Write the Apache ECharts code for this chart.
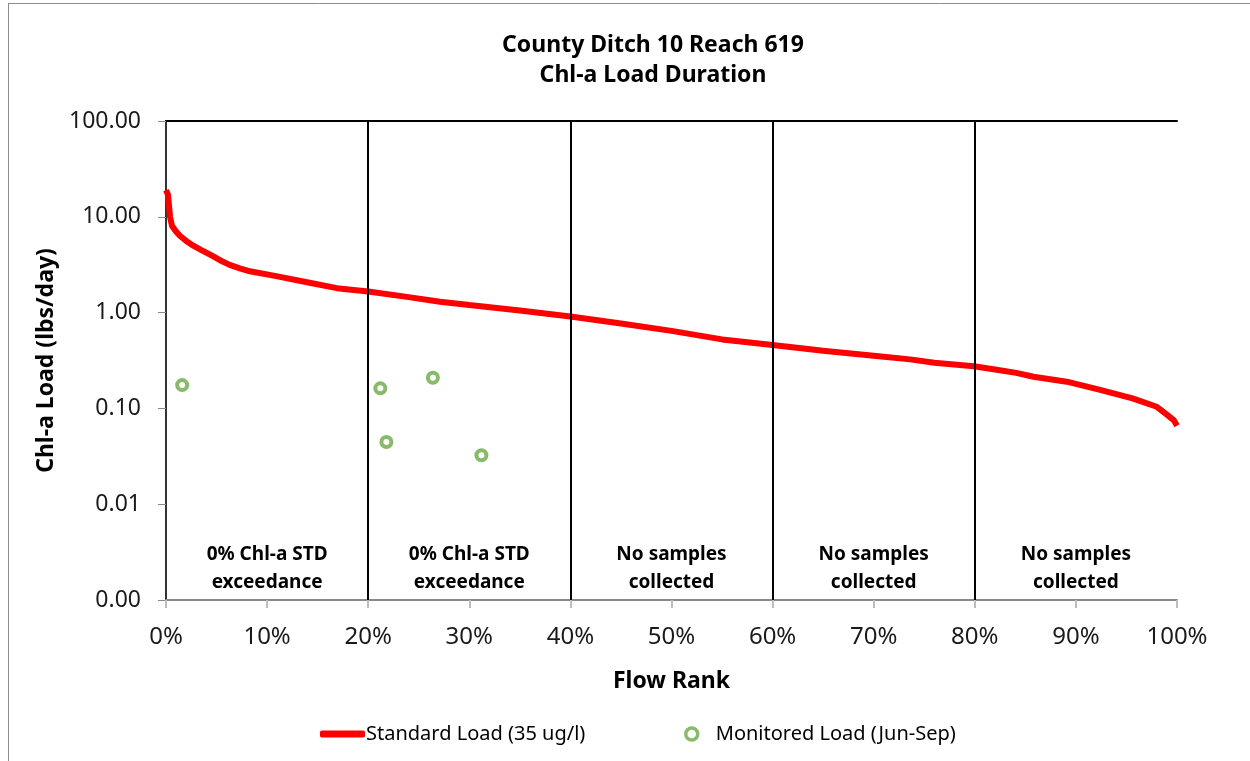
<!DOCTYPE html>
<html>
<head>
<meta charset="utf-8">
<title>County Ditch 10 Reach 619 - Chl-a Load Duration</title>
<script src="https://cdn.jsdelivr.net/npm/echarts@6/dist/echarts.min.js"></script>
<style>
  html, body { margin: 0; padding: 0; background: #fff; }
  #chart { width: 1250px; height: 761px; }
</style>
</head>
<body>
<div id="chart"></div>
<script>
// Load duration curve at the chlorophyll-a standard (flow rank %, lbs/day)
const standardRank = [0, 0.2, 0.4, 0.6, 1.0, 1.4, 2.0, 2.7, 3.5, 4.6, 5.5, 6.3, 7.3, 8.3, 10.9, 14.2, 16.9, 20, 24, 27.1, 30, 35, 40, 45, 50, 55, 60, 65, 70, 73.6, 76, 79.9, 82, 84.1, 85.8, 89.1, 92.4, 95.6, 98, 99, 99.7, 100];
const standardLoad = [19, 17, 10, 8.0, 7.0, 6.3, 5.6, 5.0, 4.5, 3.9, 3.45, 3.15, 2.9, 2.7, 2.4, 2.05, 1.8, 1.66, 1.45, 1.3, 1.2, 1.05, 0.91, 0.77, 0.645, 0.525, 0.46, 0.40, 0.355, 0.325, 0.30, 0.275, 0.255, 0.235, 0.214, 0.19, 0.156, 0.127, 0.104, 0.086, 0.075, 0.066];

// Monitored loads, June to September
const monitoredRank = [1.6, 21.2, 21.8, 26.4, 31.2];
const monitoredLoad = [0.175, 0.162, 0.0446, 0.209, 0.0324];

// Flow zone boundaries and the note written in each zone
const zoneEdges = [0, 20, 40, 60, 80, 100];
const zoneNotes = [
  '0% Chl-a STD\nexceedance',
  '0% Chl-a STD\nexceedance',
  'No samples\ncollected',
  'No samples\ncollected',
  'No samples\ncollected'
];

const yTicks = [0.001, 0.01, 0.1, 1, 10, 100];

const FONT = '"Noto Sans", "Open Sans", sans-serif';
const chart = echarts.init(document.getElementById('chart'));

const zoneAreas = zoneNotes.map((note, i) => [
  { name: note, xAxis: zoneEdges[i], yAxis: yTicks[0] },
  { xAxis: zoneEdges[i + 1], yAxis: yTicks[yTicks.length - 1] }
]);
const dividers = zoneEdges.slice(1, -1).map(x => ({ xAxis: x }));

chart.setOption({
  animation: false,
  backgroundColor: '#ffffff',
  title: {
    text: 'County Ditch 10 Reach 619\nChl-a Load Duration',
    left: 648,
    top: 25,
    textAlign: 'center',
    textStyle: { fontFamily: FONT, fontSize: 23, fontWeight: 'bold', color: '#000', lineHeight: 30 }
  },
  graphic: [
    { type: 'line', shape: { x1: 8, y1: 3.5, x2: 1250, y2: 3.5 }, style: { stroke: '#8c8c8c', lineWidth: 1 } },
    { type: 'line', shape: { x1: 8.5, y1: 3, x2: 8.5, y2: 761 }, style: { stroke: '#8c8c8c', lineWidth: 1 } }
  ],
  legend: [
    {
      data: ['Standard Load (35 ug/l)'],
      left: 315, top: 719,
      icon: 'roundRect',
      itemWidth: 45, itemHeight: 7,
      itemGap: 0,
      textStyle: { fontFamily: FONT, fontSize: 20, color: '#000', padding: [0, 0, 0, -4] }
    },
    {
      data: ['Monitored Load (Jun-Sep)'],
      left: 679, top: 719,
      icon: 'circle',
      itemWidth: 12, itemHeight: 12,
      itemStyle: { borderWidth: 3.5 },
      textStyle: { fontFamily: FONT, fontSize: 20, color: '#000', padding: [0, 0, 0, 13] }
    }
  ],
  grid: { left: 166, top: 121, right: 73, bottom: 161 },
  xAxis: [
    {
      type: 'value', min: 0, max: 100, interval: 10,
      name: 'Flow Rank', nameLocation: 'middle', nameGap: 70,
      nameTextStyle: { fontFamily: FONT, fontSize: 23, fontWeight: 'bold', color: '#000' },
      axisLine: { lineStyle: { color: '#8a8a8a', width: 2 } },
      axisTick: { show: true, length: 8, lineStyle: { color: '#bdbdbd', width: 2 } },
      axisLabel: { formatter: '{value}%', margin: 25, fontFamily: FONT, fontSize: 24, color: '#1a1a1a' },
      splitLine: { show: false }
    },
    {
      type: 'value', min: 0, max: 100, position: 'top',
      axisLine: { show: true, lineStyle: { color: '#000', width: 2 } },
      axisTick: { show: false }, axisLabel: { show: false }, splitLine: { show: false }
    }
  ],
  yAxis: [
    {
      type: 'log', logBase: 10, min: 0.001, max: 100,
      name: 'Chl-a Load (lbs/day)', nameLocation: 'middle', nameGap: 106,
      nameTextStyle: { fontFamily: FONT, fontSize: 23, fontWeight: 'bold', color: '#000' },
      axisLine: { show: true, lineStyle: { color: '#8a8a8a', width: 2 } },
      axisTick: { show: true, length: 8, lineStyle: { color: '#8a8a8a', width: 1 } },
      axisLabel: { margin: 25, fontFamily: FONT, fontSize: 23, color: '#1a1a1a', formatter: v => v.toFixed(2) },
      splitLine: { show: false }
    },
    {
      type: 'log', logBase: 10, min: 0.001, max: 100, position: 'right',
      axisLine: { show: true, lineStyle: { color: '#333', width: 2 } },
      axisTick: { show: false }, axisLabel: { show: false }, splitLine: { show: false }
    }
  ],
  series: [
    {
      name: 'Standard Load (35 ug/l)',
      type: 'line',
      data: standardRank.map((r, i) => [r, standardLoad[i]]),
      showSymbol: false, symbol: 'none',
      lineStyle: { color: '#ff0000', width: 6 },
      itemStyle: { color: '#ff0000' },
      z: 2
    },
    {
      name: 'zones',
      type: 'line',
      data: [],
      z: 3,
      markLine: {
        silent: true, symbol: 'none',
        label: { show: false },
        lineStyle: { color: '#000', width: 2, type: 'solid' },
        data: dividers
      },
      markArea: {
        silent: true,
        itemStyle: { color: 'rgba(0,0,0,0)' },
        label: {
          show: true, position: 'insideBottom', distance: 3,
          fontFamily: FONT, fontSize: 19, fontWeight: 'bold', color: '#000', lineHeight: 28,
          align: 'center'
        },
        data: zoneAreas
      }
    },
    {
      name: 'Monitored Load (Jun-Sep)',
      type: 'scatter',
      data: monitoredRank.map((r, i) => [r, monitoredLoad[i]]),
      symbol: 'circle', symbolSize: 10,
      itemStyle: { color: '#ffffff', borderColor: '#6aa943', borderWidth: 4 },
      z: 4
    }
  ]
});
</script>
</body>
</html>
